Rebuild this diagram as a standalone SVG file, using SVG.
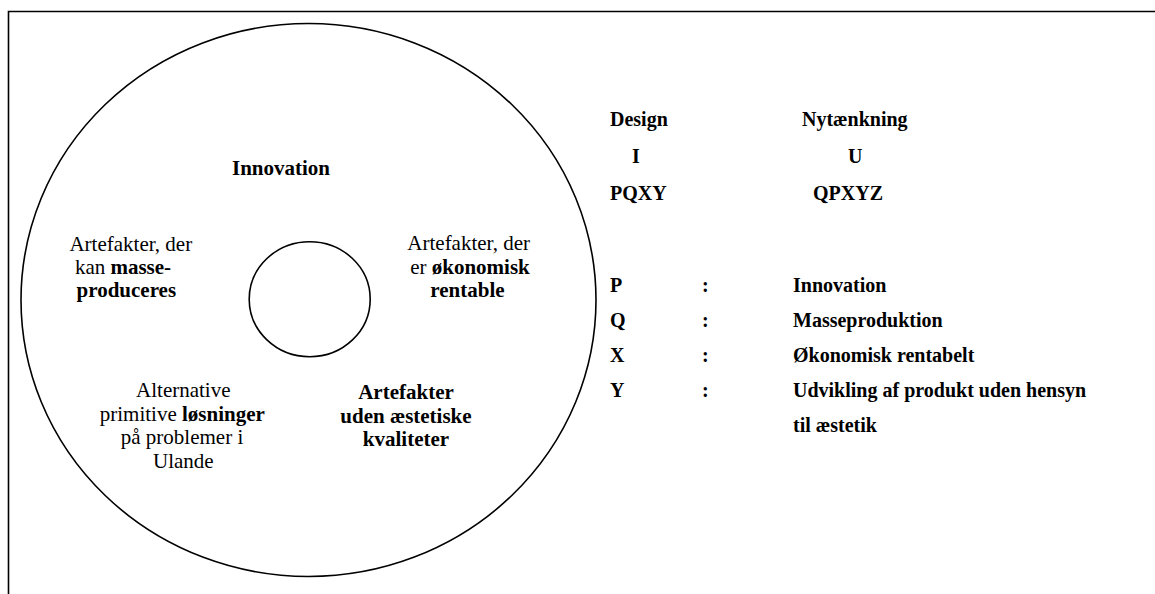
<svg xmlns="http://www.w3.org/2000/svg" width="1155" height="594" viewBox="0 0 1155 594">
<style>
.ln{fill:none;stroke:#000;stroke-width:1.6}
.t{font-family:"Liberation Serif","Times New Roman",serif;font-size:21px;fill:#000}
.r{font-family:"Liberation Serif","Times New Roman",serif;font-size:20px;font-weight:bold;fill:#000}
.b{font-weight:bold}
.c{text-anchor:middle}
</style>
<rect x="0" y="0" width="1155" height="594" fill="#fff"/>
<path id="frame" class="ln" d="M8.5,600 V11.5 H1160"/>
<g id="outer-circle"><ellipse class="ln" cx="308.5" cy="300" rx="287.5" ry="276.5"/></g>
<g id="inner-circle"><ellipse class="ln" cx="309.7" cy="299.2" rx="60.5" ry="57.5"/></g>
<g id="innovation"><text class="t b c" x="281" y="175">Innovation</text></g>
<g id="masse">
<text class="t c" x="130.8" y="251">Artefakter, der</text>
<text class="t c" x="123" y="274">kan <tspan class="b">masse-</tspan></text>
<text class="t b c" x="126.3" y="297">produceres</text>
</g>
<g id="okonomisk">
<text class="t c" x="468.7" y="250">Artefakter, der</text>
<text class="t c" x="470" y="273.5">er <tspan class="b">økonomisk</tspan></text>
<text class="t b c" x="467.5" y="297">rentable</text>
</g>
<g id="ulande">
<text class="t c" x="183.3" y="396.7">Alternative</text>
<text class="t c" x="182.3" y="420.5">primitive <tspan class="b">løsninger</tspan></text>
<text class="t c" x="182" y="444">på problemer i</text>
<text class="t c" x="183.3" y="467.5">Ulande</text>
</g>
<g id="aestetik">
<text class="t b c" x="406" y="399">Artefakter</text>
<text class="t b c" x="406" y="422.5">uden æstetiske</text>
<text class="t b c" x="406" y="446">kvaliteter</text>
</g>
<g id="design">
<text class="r" x="610" y="126">Design</text>
<text class="r" x="632" y="163">I</text>
<text class="r" x="610" y="200">PQXY</text>
</g>
<g id="nytaenkning">
<text class="r" x="802" y="126">Nytænkning</text>
<text class="r" x="848" y="163">U</text>
<text class="r" x="813" y="200">QPXYZ</text>
</g>
<g id="legend">
<text class="r" x="610" y="292">P</text><text class="r" x="702" y="292">:</text><text class="r" x="793" y="292">Innovation</text>
<text class="r" x="610" y="327">Q</text><text class="r" x="702" y="327">:</text><text class="r" x="793" y="327">Masseproduktion</text>
<text class="r" x="610" y="362">X</text><text class="r" x="702" y="362">:</text><text class="r" x="793" y="362">Økonomisk rentabelt</text>
<text class="r" x="610" y="397">Y</text><text class="r" x="702" y="397">:</text><text class="r" x="793" y="397">Udvikling af produkt uden hensyn</text>
<text class="r" x="793" y="432">til æstetik</text>
</g>
</svg>
